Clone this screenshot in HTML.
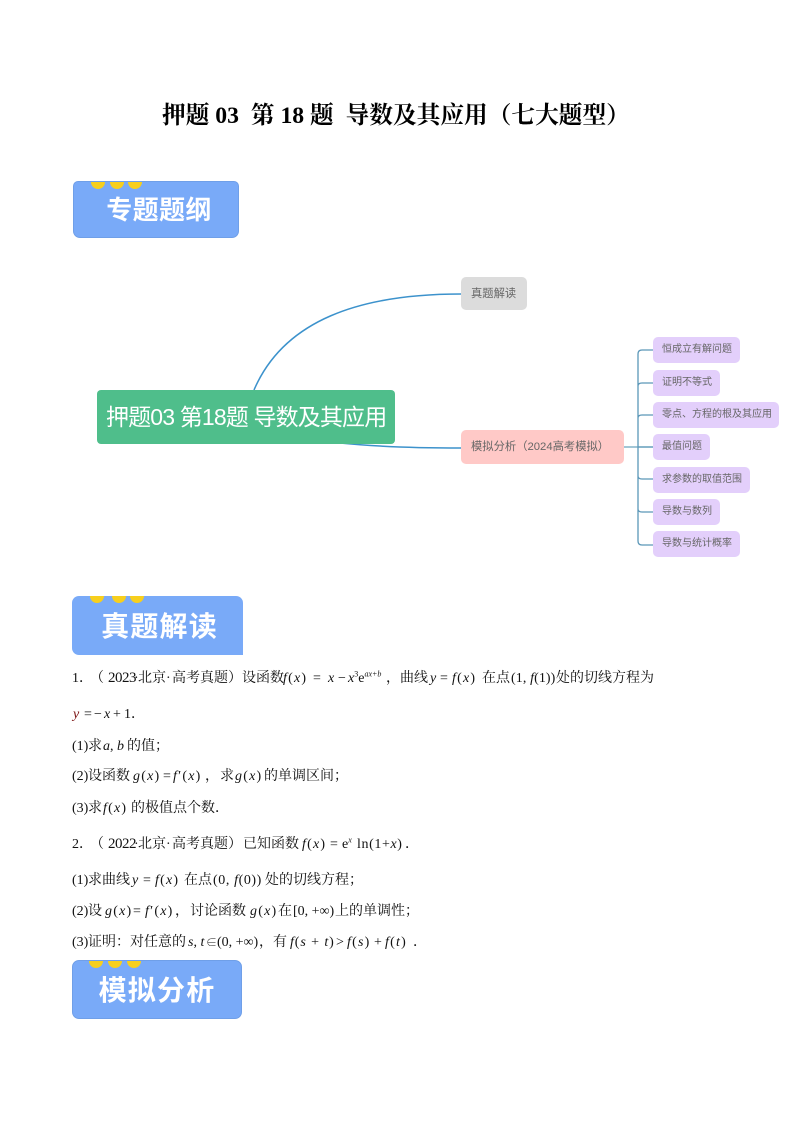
<!DOCTYPE html>
<html lang="zh">
<head>
<meta charset="utf-8">
<style>
html,body{margin:0;padding:0;background:#fff}
#p{position:relative;width:794px;height:1123px;overflow:hidden;background:#fff;font-family:"Liberation Serif","Noto Serif CJK SC",serif;color:#111}
#p div{position:absolute;white-space:nowrap}
#p span{position:absolute;white-space:nowrap;top:0}
.t{left:0;width:794px;font-size:14px;line-height:20px;height:20px}
.m{letter-spacing:1.2px}
i{font-family:"Liberation Serif",serif;font-style:italic}
sup{font-size:8px;line-height:0}
#p .ban{background:#79aaf8;box-sizing:border-box;overflow:hidden;color:#fff;font-family:"Liberation Sans","Noto Sans CJK SC",sans-serif;font-weight:700;text-align:center}
#p .dot{width:14px;height:14px;background:#f7cf1d;border-radius:50%;top:-7px}
.n{box-sizing:border-box;border-radius:4px;font-family:"Liberation Sans","Noto Sans CJK SC",sans-serif;color:#666;text-align:left}
.s{background:#e3cffb;height:26px;line-height:26px;padding-left:9px;font-size:10px;border-radius:5px}
</style>
</head>
<body>
<div id="p">
<div style="left:162px;top:98px;font-size:23.7px;line-height:36px;font-weight:700;color:#000">押题 03&nbsp; 第 18 题&nbsp; 导数及其应用（七大题型）</div>

<div class="ban" style="left:73px;top:181px;width:166px;height:57px;line-height:57px;border-radius:5px 5px 7px 7px;font-size:26px;letter-spacing:.4px;border:1px solid #6f9fe8;padding-left:6px">专题题纲<span class="dot" style="left:17px"></span><span class="dot" style="left:36px"></span><span class="dot" style="left:54px"></span></div>

<svg style="position:absolute;left:0;top:0" width="794" height="1123" fill="none">
<path d="M254 390C284 320 360 294 461 294" stroke="#3c92cc" stroke-width="1.5"/>
<path d="M340 443C380 447 420 448 461 448" stroke="#3c92cc" stroke-width="1.5"/>
<path d="M623 447H653" stroke="#6ba3bd" stroke-width="1.2"/>
<path d="M653 350H642Q638 350 638 354V541Q638 545 642 545H653M638 386Q638 383 642 383H653M638 418Q638 415 642 415H653M638 447H653M638 476Q638 479 642 479H653M638 509Q638 512 642 512H653" stroke="#5b97b8" stroke-width="1.3"/>
</svg>

<div class="n" style="left:97px;top:390px;width:298px;height:54px;background:#4fbe8b;color:#fff;font-size:23px;line-height:54px;padding-left:9px;letter-spacing:-.85px">押题03 第18题 导数及其应用</div>
<div class="n" style="left:461px;top:277px;width:66px;height:33px;background:#dcdcdc;line-height:34px;padding-left:10px;border-radius:5px;font-size:11.3px">真题解读</div>
<div class="n" style="left:461px;top:430px;width:163px;height:34px;background:#ffc9c7;line-height:35px;padding-left:10px;border-radius:5px;font-size:11.3px">模拟分析（2024高考模拟）</div>

<div class="n s" style="left:653px;top:337px;width:87px">恒成立有解问题</div>
<div class="n s" style="left:653px;top:370px;width:67px">证明不等式</div>
<div class="n s" style="left:653px;top:402px;width:126px">零点、方程的根及其应用</div>
<div class="n s" style="left:653px;top:434px;width:57px">最值问题</div>
<div class="n s" style="left:653px;top:467px;width:97px">求参数的取值范围</div>
<div class="n s" style="left:653px;top:499px;width:67px">导数与数列</div>
<div class="n s" style="left:653px;top:531px;width:87px">导数与统计概率</div>

<div class="ban" style="left:72px;top:596px;width:171px;height:59px;line-height:61px;border-radius:7px 7px 0 7px;font-size:28px;letter-spacing:1.2px;padding-left:4px">真题解读<span class="dot" style="left:18px;top:-7px"></span><span class="dot" style="left:40px"></span><span class="dot" style="left:58px"></span></div>

<div class="t" style="top:669px">
<span style="left:72px">1．</span><span style="left:90px">（</span><span style="left:108px;font-size:15px;top:-1px;letter-spacing:-.5px">2023</span><span style="left:134px">·</span><span style="left:138px">北京</span><span style="left:166px">·</span><span style="left:172px">高考真题</span><span style="left:228px">）</span><span style="left:242px">设函数</span>
<span class="m" style="left:283px"><i>f</i>(<i>x</i>)</span><span style="left:313px">=</span><span style="left:328px"><i>x</i></span><span style="left:338px">−</span><span style="left:348px"><i>x</i><sup>3</sup>e<sup><i>ax+b</i></sup></span><span style="left:386px">，</span>
<span style="left:400px">曲线</span><span style="left:430px"><i>y</i></span><span style="left:440px">=</span><span class="m" style="left:452px"><i>f</i>(<i>x</i>)</span><span style="left:482px">在点</span><span style="left:511px;letter-spacing:.1px">(1, <i>f</i>(1))</span><span style="left:556px">处的切线方程为</span>
</div>
<div class="t" style="top:705px"><span style="left:73px"><i style="color:#7a1010">y</i></span><span style="left:84px">=</span><span style="left:94px">−</span><span style="left:104px"><i>x</i></span><span style="left:113px">+</span><span style="left:124px">1</span><span style="left:131px">．</span></div>
<div class="t" style="top:737px"><span style="left:72px">(1)</span><span style="left:88px">求</span><span style="left:103px"><i>a</i>, <i>b</i></span><span style="left:127px">的值；</span></div>
<div class="t" style="top:767px"><span style="left:72px">(2)</span><span style="left:88px">设函数</span><span class="m" style="left:133px"><i>g</i>(<i>x</i>)</span><span style="left:163px">=</span><span class="m" style="left:173px"><i>f</i>′(<i>x</i>)</span><span style="left:205px">，</span><span style="left:220px">求</span><span class="m" style="left:235px"><i>g</i>(<i>x</i>)</span><span style="left:264px">的单调区间；</span></div>
<div class="t" style="top:799px"><span style="left:72px">(3)</span><span style="left:88px">求</span><span class="m" style="left:103px"><i>f</i>(<i>x</i>)</span><span style="left:131px">的极值点个数．</span></div>
<div class="t" style="top:835px">
<span style="left:72px">2．</span><span style="left:90px">（</span><span style="left:108px;font-size:15px;top:-1px;letter-spacing:-.5px">2022</span><span style="left:134px">·</span><span style="left:138px">北京</span><span style="left:166px">·</span><span style="left:172px">高考真题</span><span style="left:228px">）</span><span style="left:243px">已知函数</span>
<span class="m" style="left:302px"><i>f</i>(<i>x</i>)</span><span style="left:330px">=</span><span style="left:342px">e<sup><i>x</i></sup></span><span style="left:357px;letter-spacing:.6px">ln(1+<i>x</i>)</span><span style="left:405px">．</span></div>
<div class="t" style="top:871px"><span style="left:72px">(1)</span><span style="left:88px">求曲线</span><span style="left:132px"><i>y</i></span><span style="left:143px">=</span><span class="m" style="left:155px"><i>f</i>(<i>x</i>)</span><span style="left:184px">在点</span><span style="left:213px;letter-spacing:.6px">(0, <i>f</i>(0))</span><span style="left:265px">处的切线方程；</span></div>
<div class="t" style="top:902px"><span style="left:72px">(2)</span><span style="left:88px">设</span><span class="m" style="left:105px"><i>g</i>(<i>x</i>)</span><span style="left:133px">=</span><span class="m" style="left:145px"><i>f</i>′(<i>x</i>)</span><span style="left:175px">，</span><span style="left:190px">讨论函数</span><span class="m" style="left:250px"><i>g</i>(<i>x</i>)</span><span style="left:278px">在</span><span style="left:293px">[0, +∞)</span><span style="left:335px">上的单调性；</span></div>
<div class="t" style="top:933px"><span style="left:72px">(3)</span><span style="left:88px">证明：</span><span style="left:130px">对任意的</span><span style="left:188px"><i>s</i>, <i>t</i></span><span style="left:206px;font-size:11px">∈</span><span style="left:217px">(0, +∞)</span><span style="left:259px">，</span><span style="left:273px">有</span><span style="left:290px;letter-spacing:.9px"><i>f</i>(<i>s</i> + <i>t</i>)</span><span style="left:336px">&gt;</span><span class="m" style="left:347px"><i>f</i>(<i>s</i>)</span><span style="left:374px">+</span><span class="m" style="left:385px"><i>f</i>(<i>t</i>)</span><span style="left:413px">．</span></div>

<div class="ban" style="left:72px;top:960px;width:170px;height:59px;line-height:60px;border-radius:7px;font-size:28px;letter-spacing:1.2px;border:1px solid #6f9fe8">模拟分析<span class="dot" style="left:16px"></span><span class="dot" style="left:35px"></span><span class="dot" style="left:54px"></span></div>
</div>
</body>
</html>
